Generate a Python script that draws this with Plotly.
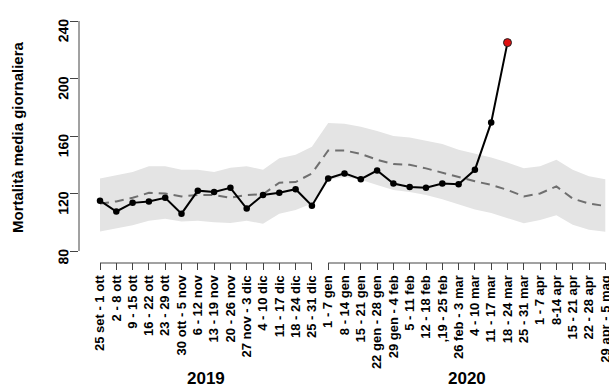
import plotly.graph_objects as go

# ---------------- data ----------------
week_labels = [
    "25 set - 1 ott", "2 - 8 ott", "9 - 15 ott", "16 - 22 ott", "23 - 29 ott",
    "30 ott - 5 nov", "6 - 12 nov", "13 - 19 nov", "20 - 26 nov", "27 nov - 3 dic",
    "4 - 10 dic", "11 - 17 dic", "18 - 24 dic", "25 - 31 dic",
    "1 - 7 gen", "8 - 14 gen", "15 - 21 gen", "22 gen - 28 gen", "29 gen - 4 feb",
    "5 - 11 feb", "12 - 18 feb", ",19 - 25 feb", "26 feb - 3 mar", "4 - 10 mar",
    "11 - 17 mar", "18 - 24 mar", "25 - 31 mar", "1 - 7 apr", "8-14 apr",
    "15 - 21 apr", "22 - 28 apr", "29 apr - 5 mag",
]
positions = list(range(1, len(week_labels) + 1))
n_2019 = 14
years = ["2019", "2020"]

observed = [115, 107.5, 113.5, 114.5, 117, 106, 122, 121, 124, 109.5, 119, 120.5,
            123, 111.5, 130.5, 134, 130, 136, 127, 124.5, 124, 127, 126.5, 136.5,
            169.5, 225]
expected = [113, 114.5, 117, 120.5, 120, 118, 119, 119, 117, 119, 119.5, 127.5,
            128, 134, 150, 150, 147.5, 143.5, 140.5, 140, 137.5, 134.5, 131, 128.5,
            126, 122.5, 118, 120, 125, 116.5, 113, 111.3]
band_upper = [130.5, 133, 135, 139, 139, 136.5, 136.5, 135, 138, 139, 136.5, 144.5,
              147, 152.5, 169, 168.5, 166.5, 163.5, 160, 159, 156.5, 154.5, 150.5,
              148, 145, 141.5, 137.5, 139, 143.5, 136.5, 132, 130]
band_lower = [93.5, 95.5, 98, 101, 102.5, 100.5, 101, 100, 99.5, 101, 99, 106,
              108.5, 113, 129.5, 131.5, 129.5, 126, 122.5, 121, 119, 116, 112.2,
              108.8, 106.4, 102.6, 99.3, 101.6, 104.8, 98.2, 94.8, 93.4]
y_ticks = [80, 120, 160, 200, 240]

# ---------------- figure ----------------
FONT = "Liberation Sans, Arial, sans-serif"
obs_x = positions[:len(observed)]

fig = go.Figure()
fig.add_trace(go.Scatter(x=positions, y=band_lower, mode="lines",
                         line=dict(width=0, color="rgba(0,0,0,0)"),
                         showlegend=False, hoverinfo="skip"))
fig.add_trace(go.Scatter(x=positions, y=band_upper, mode="lines",
                         line=dict(width=0, color="rgba(0,0,0,0)"),
                         fill="tonexty", fillcolor="#e4e4e4",
                         showlegend=False, hoverinfo="skip"))
fig.add_trace(go.Scatter(x=positions, y=expected, mode="lines",
                         line=dict(color="#6f6f6f", width=2, dash="9px,6px"),
                         showlegend=False))
fig.add_trace(go.Scatter(x=obs_x, y=observed, mode="lines+markers",
                         line=dict(color="black", width=2),
                         marker=dict(color="black", size=6.5),
                         showlegend=False))
fig.add_trace(go.Scatter(x=[obs_x[-1]], y=[observed[-1]], mode="markers",
                         marker=dict(color="#e01010", size=8,
                                     line=dict(color="#222", width=1)),
                         showlegend=False))

# axis segments (R style)
fig.add_shape(type="line", xref="x", yref="paper", x0=1, x1=n_2019, y0=-0.004, y1=-0.004,
              line=dict(color="#444", width=1))
fig.add_shape(type="line", xref="x", yref="paper", x0=n_2019 + 1, x1=len(positions),
              y0=-0.004, y1=-0.004, line=dict(color="#444", width=1))
fig.add_shape(type="line", xref="paper", yref="y", x0=0, x1=0, y0=y_ticks[0], y1=y_ticks[-1],
              line=dict(color="#444", width=1))

# year labels
fig.add_annotation(x=(1 + n_2019) / 2, y=-0.464, xref="x", yref="paper", text=years[0],
                   xanchor="center", yanchor="middle", showarrow=False,
                   font=dict(size=17, family=FONT, color="black", weight="bold"))
fig.add_annotation(x=(n_2019 + 1 + len(positions)) / 2, y=-0.464, xref="x", yref="paper",
                   text=years[1], xanchor="center", yanchor="middle", showarrow=False,
                   font=dict(size=17, family=FONT, color="black", weight="bold"))
# y title
fig.add_annotation(x=-0.117, y=0.5, xref="paper", yref="paper",
                   text="Mortalità media giornaliera", textangle=-90, showarrow=False,
                   xanchor="center", yanchor="middle",
                   font=dict(size=15, family=FONT, color="black", weight="bold"))

px_per_unit = 16.3
x0 = 1 - 21 / px_per_unit
fig.update_layout(
    width=609, height=388,
    margin=dict(l=79, r=0, t=12, b=126),
    plot_bgcolor="white", paper_bgcolor="white",
    xaxis=dict(range=[x0, x0 + 530 / px_per_unit], tickmode="array",
               tickvals=positions, ticktext=week_labels, tickangle=-90,
               ticks="outside", ticklen=7, tickcolor="#444", showline=False,
               showgrid=False, zeroline=False, automargin=False,
               ticklabeloverflow="allow",
               tickfont=dict(size=13, family=FONT, color="black", weight="bold")),
    yaxis=dict(range=[72.35, 246.3], tickmode="array", tickvals=y_ticks,
               tickangle=-89.9, ticks="outside", ticklen=8, tickcolor="#444",
               showline=False, showgrid=False, zeroline=False, automargin=False,
               ticklabelstandoff=6, ticklabeloverflow="allow",
               tickfont=dict(size=14, family=FONT, color="black", weight="bold")),
)

fig.write_html("out.html", config={"displayModeBar": False},
               post_script="document.body.style.margin='0';")
